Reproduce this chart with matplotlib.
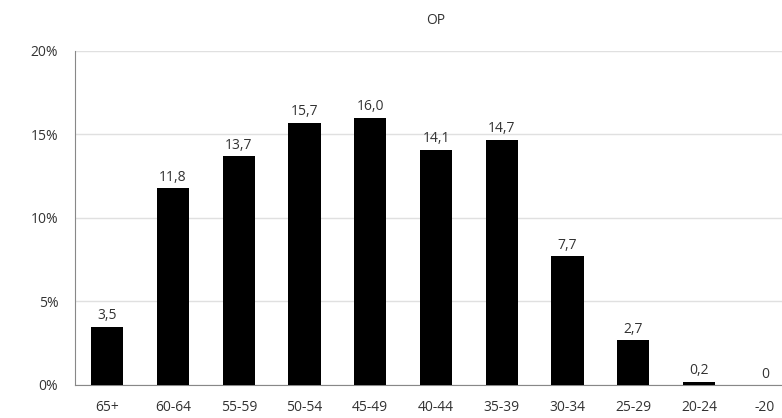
import numpy as np
import matplotlib.pyplot as plt

# age groups and share (%)
categories = ['65+', '60-64', '55-59', '50-54', '45-49', '40-44', '35-39',
              '30-34', '25-29', '20-24', '-20']
values = [3.5, 11.8, 13.7, 15.7, 16.0, 14.1, 14.7, 7.7, 2.7, 0.2, 0]
value_labels = ['3,5', '11,8', '13,7', '15,7', '16,0', '14,1', '14,7',
                '7,7', '2,7', '0,2', '0']
yticks = [0, 5, 10, 15, 20]
ytick_labels = ['0%', '5%', '10%', '15%', '20%']

plt.rcParams['font.family'] = ['Open Sans', 'DejaVu Sans']
txt = '#333333'

fig = plt.figure(figsize=(7.82, 4.18), dpi=100)
ax = fig.add_axes([0.0959, 0.079, 0.9041, 0.799])

x = np.arange(len(categories))
bars = ax.bar(x, values, width=0.49, color='black', zorder=3)
for xi, v, lab in zip(x, values, value_labels):
    ax.text(xi, v + 0.2, lab, ha='center', va='bottom', fontsize=10, color=txt)

ax.set_xlim(-0.49, 10.26)
ax.set_ylim(0, 20)
ax.set_yticks(yticks)
ax.set_yticklabels(ytick_labels)
ax.set_xticks(x)
ax.set_xticklabels(categories)
ax.tick_params(axis='both', length=0, labelsize=10, colors=txt)
ax.tick_params(axis='x', pad=11)
ax.tick_params(axis='y', pad=12)
ax.grid(axis='y', color='#e0e0e0', linewidth=1, zorder=0)

for s in ['top', 'right']:
    ax.spines[s].set_visible(False)
ax.spines['left'].set_color('#888888')
ax.spines['bottom'].set_color('#888888')

fig.text(0.557, 0.952, 'OP', ha='center', va='center', fontsize=10, color=txt)

fig.savefig('out.png', dpi=100)
